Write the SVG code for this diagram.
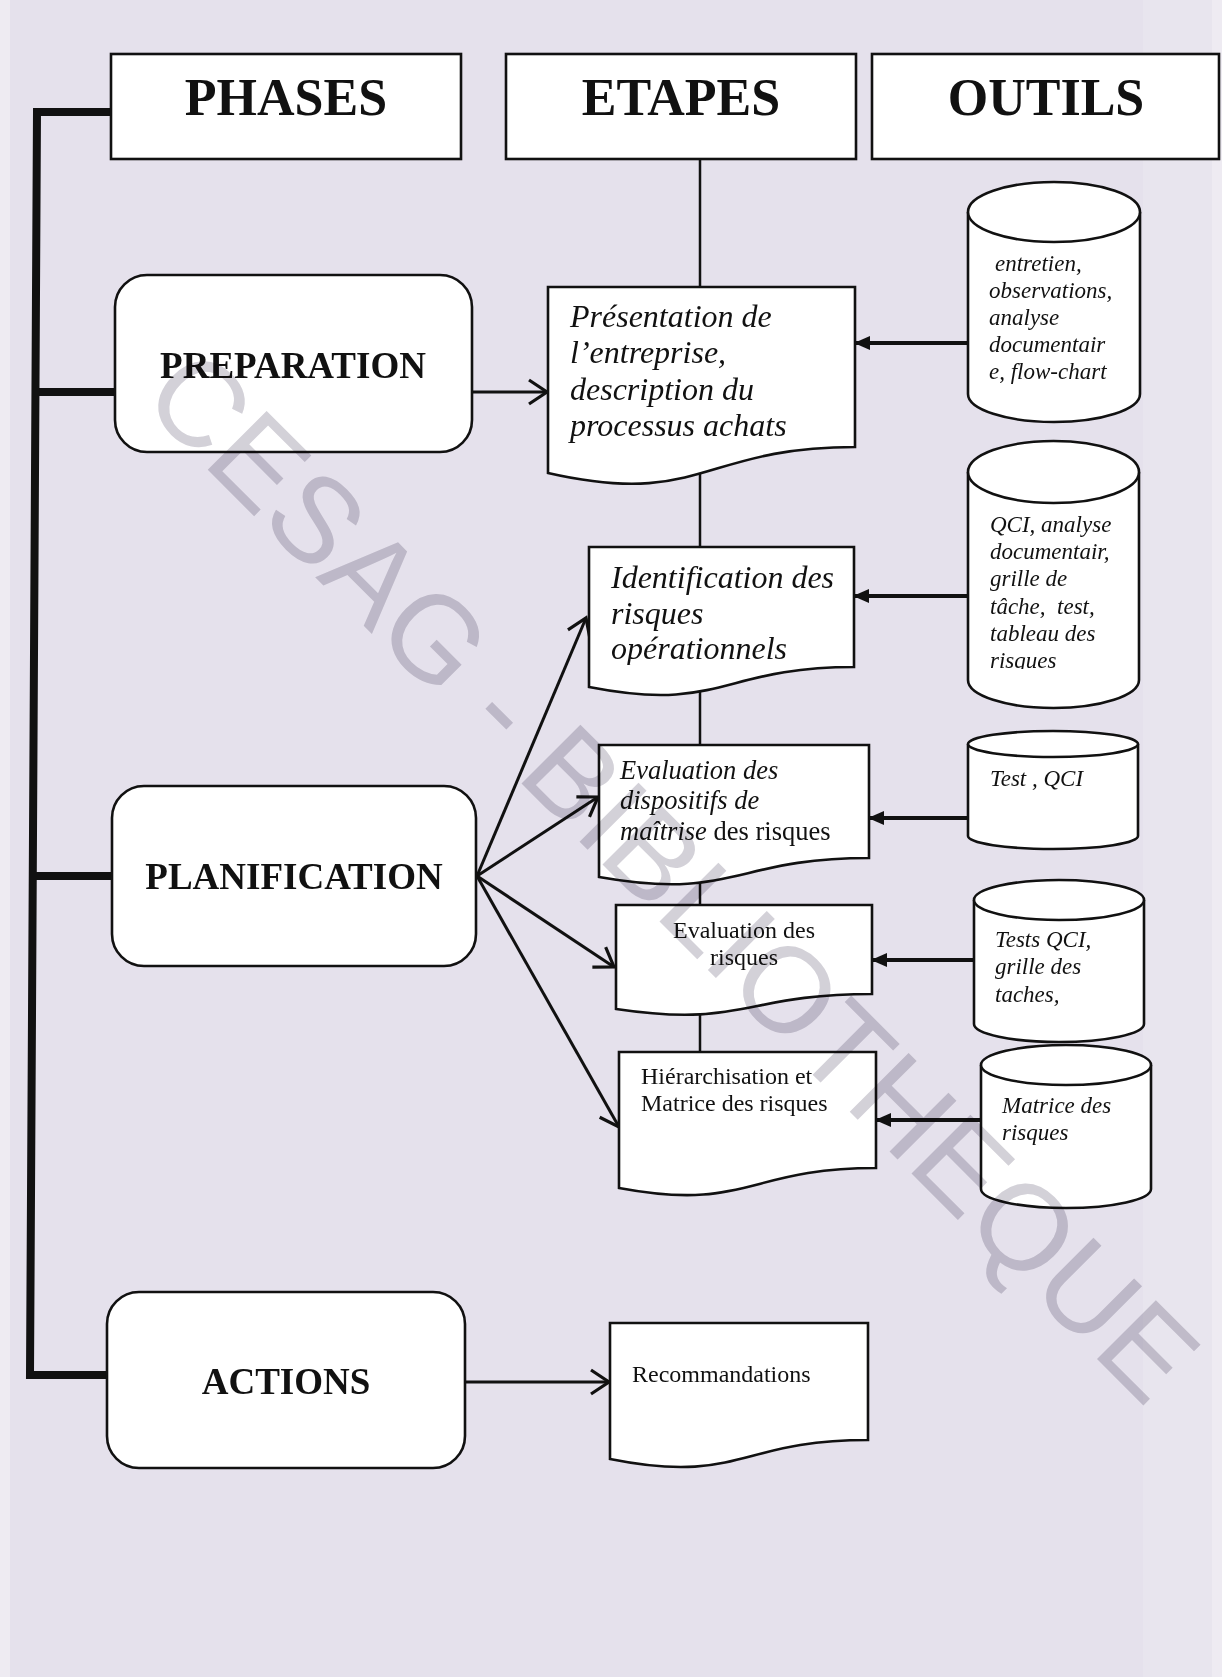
<svg xmlns="http://www.w3.org/2000/svg" width="1222" height="1677" viewBox="0 0 1222 1677">
<style>
.bg{fill:#E5E1EC}
.box{fill:#FFFFFF;stroke:#111;stroke-width:2.6}
.hdr{font-family:"Liberation Serif","Times New Roman",serif;font-weight:bold;font-size:52px;fill:#111;text-anchor:middle}
.ph{font-family:"Liberation Serif","Times New Roman",serif;font-weight:bold;font-size:37px;fill:#111;text-anchor:middle}
.it{font-family:"Liberation Serif","Times New Roman",serif;font-style:italic;fill:#111}
.rm{font-family:"Liberation Serif","Times New Roman",serif;fill:#111}
.bus{fill:none;stroke:#111;stroke-width:8;stroke-linejoin:miter}
.fan{fill:none;stroke:#111;stroke-width:3;marker-end:url(#open)}
.tool{fill:none;stroke:#111;stroke-width:4;marker-end:url(#solid)}
.thin{fill:none;stroke:#111;stroke-width:2.5}
.wm{font-family:"Liberation Sans",Arial,sans-serif;font-size:121px;fill:#D3D1D8;text-anchor:middle;mix-blend-mode:multiply}
</style>
<defs>
<marker id="open" markerUnits="userSpaceOnUse" viewBox="-3 -3 26 30" markerWidth="26" markerHeight="30" refX="18" refY="12" orient="auto">
<path d="M0,0 L18,12 L0,24" fill="none" stroke="#111" stroke-width="3.2"/>
</marker>
<marker id="solid" markerUnits="userSpaceOnUse" viewBox="0 0 16 14" markerWidth="16" markerHeight="14" refX="14" refY="7" orient="auto">
<path d="M0,0 L16,7 L0,14 Z" fill="#111"/>
</marker>
<clipPath id="clipId"><rect x="589" y="547" width="265" height="118"/></clipPath>
<clipPath id="clipC2"><rect x="968" y="500" width="171" height="169"/></clipPath>
</defs>

<rect class="bg" x="0" y="0" width="1222" height="1677"/>
<rect x="0" y="0" width="10" height="1677" fill="#EEEBF2"/>
<rect x="1143" y="0" width="79" height="1677" fill="#E8E5EE"/>
<rect x="1212" y="0" width="10" height="1677" fill="#EEEBF2"/>

<g id="connectors">
<path class="bus" d="M111,112 H37 L30,1375 H107"/>
<path class="bus" d="M35,392 H115"/>
<path class="bus" d="M32,876 H112"/>
<line class="thin" x1="700" y1="159" x2="700" y2="1052"/>
<line class="fan" x1="472" y1="392" x2="547" y2="392"/>
<line class="fan" x1="466" y1="1382" x2="609" y2="1382"/>
<line class="fan" x1="477" y1="876" x2="586" y2="618"/>
<line class="fan" x1="477" y1="876" x2="598" y2="797"/>
<line class="fan" x1="477" y1="876" x2="614" y2="967"/>
<line class="fan" x1="477" y1="876" x2="619" y2="1127"/>
<line class="tool" x1="968" y1="343" x2="856" y2="343"/>
<line class="tool" x1="968" y1="596" x2="855" y2="596"/>
<line class="tool" x1="968" y1="818" x2="870" y2="818"/>
<line class="tool" x1="974" y1="960" x2="873" y2="960"/>
<line class="tool" x1="981" y1="1120" x2="877" y2="1120"/>
</g>

<g id="hdr-phases">
<rect class="box" x="111" y="54" width="350" height="105"/>
<text class="hdr" x="286" y="115">PHASES</text>
</g>
<g id="hdr-etapes">
<rect class="box" x="506" y="54" width="350" height="105"/>
<text class="hdr" x="681" y="115">ETAPES</text>
</g>
<g id="hdr-outils">
<rect class="box" x="872" y="54" width="347" height="105"/>
<text class="hdr" x="1046" y="115">OUTILS</text>
</g>

<g id="phase-preparation">
<rect class="box" x="115" y="275" width="357" height="177" rx="32" ry="32"/>
<text class="ph" x="293" y="378">PREPARATION</text>
</g>
<g id="phase-planification">
<rect class="box" x="112" y="786" width="364" height="180" rx="32" ry="32"/>
<text class="ph" x="294" y="889">PLANIFICATION</text>
</g>
<g id="phase-actions">
<rect class="box" x="107" y="1292" width="358" height="176" rx="32" ry="32"/>
<text class="ph" x="286" y="1394">ACTIONS</text>
</g>

<g id="etape-presentation">
<path class="box" d="M548,287 H855 V447 C701.5,447 701.5,508 548,473 Z"/>
<text class="it" font-size="32"><tspan x="570" y="327">Présentation de</tspan><tspan x="570" y="363">l’entreprise,</tspan><tspan x="570" y="400">description du</tspan><tspan x="570" y="436">processus achats</tspan></text>
</g>
<g id="etape-identification">
<path class="box" d="M589,547 H854 V667 C721.5,667 721.5,713 589,687 Z"/>
<text class="it" font-size="32" clip-path="url(#clipId)"><tspan x="611" y="588">Identification des</tspan><tspan x="611" y="624">risques</tspan><tspan x="611" y="659">opérationnels</tspan></text>
</g>
<g id="etape-dispositifs">
<path class="box" d="M599,745 H869 V858 C734,858 734,901 599,877 Z"/>
<text class="it" font-size="26.5"><tspan x="620" y="779">Evaluation des</tspan><tspan x="620" y="809">dispositifs de</tspan><tspan x="620" y="840">maîtrise</tspan><tspan class="rm" font-style="normal"> des risques</tspan></text>
</g>
<g id="etape-evaluation">
<path class="box" d="M616,905 H872 V994 C744,994 744,1028 616,1009 Z"/>
<text class="rm" font-size="24" text-anchor="middle"><tspan x="744" y="938">Evaluation des</tspan><tspan x="744" y="965">risques</tspan></text>
</g>
<g id="etape-hierarchisation">
<path class="box" d="M619,1052 H876 V1168 C747.5,1168 747.5,1212 619,1188 Z"/>
<text class="rm" font-size="24"><tspan x="641" y="1084">Hiérarchisation et</tspan><tspan x="641" y="1111">Matrice des risques</tspan></text>
</g>
<g id="etape-recommandations">
<path class="box" d="M610,1323 H868 V1440 C739,1440 739,1485 610,1459 Z"/>
<text class="rm" font-size="24" x="632" y="1382">Recommandations</text>
</g>

<g id="outil-1">
<path class="box" d="M968,212 V394 A86,28 0 0 0 1140,394 V212"/>
<ellipse class="box" cx="1054" cy="212" rx="86" ry="30"/>
<text class="it" font-size="23"><tspan x="995" y="271">entretien,</tspan><tspan x="989" y="298">observations,</tspan><tspan x="989" y="325">analyse</tspan><tspan x="989" y="352">documentair</tspan><tspan x="989" y="379">e, flow-chart</tspan></text>
</g>
<g id="outil-2">
<path class="box" d="M968,472 V680 A85.5,28 0 0 0 1139,680 V472"/>
<ellipse class="box" cx="1053.5" cy="472" rx="85.5" ry="31"/>
<text class="it" font-size="23" clip-path="url(#clipC2)"><tspan x="990" y="532">QCI, analyse</tspan><tspan x="990" y="559">documentair,</tspan><tspan x="990" y="586">grille de</tspan><tspan x="990" y="614">tâche,&#160; test,</tspan><tspan x="990" y="641">tableau des</tspan><tspan x="990" y="668">risques</tspan></text>
</g>
<g id="outil-3">
<path class="box" d="M968,744 V836 A85,13 0 0 0 1138,836 V744"/>
<ellipse class="box" cx="1053" cy="744" rx="85" ry="13"/>
<text class="it" font-size="23" x="990" y="786">Test , QCI</text>
</g>
<g id="outil-4">
<path class="box" d="M974,900 V1024 A85,18 0 0 0 1144,1024 V900"/>
<ellipse class="box" cx="1059" cy="900" rx="85" ry="20"/>
<text class="it" font-size="23"><tspan x="995" y="947">Tests QCI,</tspan><tspan x="995" y="974">grille des</tspan><tspan x="995" y="1002">taches,</tspan></text>
</g>
<g id="outil-5">
<path class="box" d="M981,1065 V1189 A85,19 0 0 0 1151,1189 V1065"/>
<ellipse class="box" cx="1066" cy="1065" rx="85" ry="20"/>
<text class="it" font-size="23"><tspan x="1002" y="1113">Matrice des</tspan><tspan x="1002" y="1140">risques</tspan></text>
</g>

<text class="wm" transform="translate(643,905) rotate(45)" x="0" y="0">CESAG - BIBLIOTHEQUE</text>
</svg>
